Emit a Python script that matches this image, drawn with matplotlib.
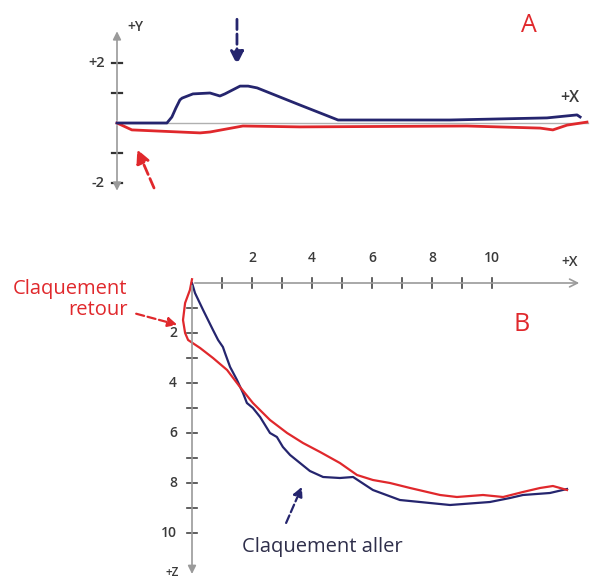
import matplotlib.pyplot as plt

plt.rcParams['font.family'] = ['Open Sans', 'DejaVu Sans']

# panel A (side view, X / Y)
a_blue_x = [0, 1.61, 1.77, 1.9, 2.03, 2.1, 2.45, 3.0, 3.32, 3.48, 3.97, 4.23, 4.52, 5.9, 7.13, 10.74, 13.87, 14.84, 14.94]
a_blue_y = [0, 0, 0.2, 0.5, 0.77, 0.83, 0.97, 1.0, 0.9, 0.97, 1.23, 1.23, 1.17, 0.6, 0.1, 0.1, 0.17, 0.27, 0.2]
a_red_x = [0, 0.48, 2.68, 3.0, 4.06, 5.9, 11.29, 13.65, 14.06, 14.52, 15.16]
a_red_y = [0, -0.23, -0.33, -0.3, -0.1, -0.13, -0.1, -0.17, -0.23, -0.07, 0.03]
a_yticks = [-2, -1, 1, 2]
a_ylabels = {-2: '-2', 2: '+2'}

# panel B (top view, X / Z)
b_blue_x = [0, 0.1, 0.37, 0.7, 0.87, 1.03, 1.1, 1.27, 1.5, 1.7, 1.83, 2.03, 2.27, 2.6, 2.83, 3.03,
            3.27, 3.6, 3.93, 4.37, 4.93, 5.37, 6.03, 6.93, 8.6, 9.93, 10.6, 11.03, 11.93, 12.5]
b_blue_z = [0, 0.4, 1.08, 1.88, 2.28, 2.56, 2.8, 3.36, 3.88, 4.4, 4.8, 5.0, 5.36, 6.0, 6.16, 6.56,
            6.88, 7.2, 7.52, 7.76, 7.8, 7.76, 8.28, 8.68, 8.88, 8.76, 8.6, 8.48, 8.4, 8.24]
b_red_x = [0, -0.07, -0.23, -0.3, -0.23, -0.13, 0.27, 0.7, 1.17, 1.6, 2.03, 2.6, 3.17, 3.7, 4.27,
           4.93, 5.5, 6.03, 6.6, 7.27, 8.27, 8.83, 9.7, 10.37, 11.03, 11.6, 12.03, 12.27, 12.5]
b_red_z = [-0.15, 0.28, 0.8, 1.48, 2.0, 2.28, 2.6, 3.0, 3.48, 4.16, 4.8, 5.48, 6.0, 6.4, 6.76,
           7.2, 7.68, 7.88, 8.0, 8.2, 8.48, 8.56, 8.48, 8.56, 8.36, 8.2, 8.12, 8.2, 8.28]
b_xticks = list(range(1, 11))
b_xlabels = [2, 4, 6, 8, 10]
b_zticks = list(range(1, 11))
b_zlabels = [2, 4, 6, 8, 10]

navy = '#25256e'
red = '#e0282c'
grey = '#9a9a9a'
txt = '#3a3a3a'
W, H = 590, 583

fig = plt.figure(figsize=(5.9, 5.83), dpi=100)

# ---------- panel A ----------
axA = fig.add_axes([0, 1 - 220 / H, 1, 220 / H])
axA.set_xlim(-117 / 31, (W - 117) / 31)
axA.set_ylim((123 - 220) / 30, 123 / 30)
axA.axis('off')

axA.annotate('', xy=(0, 3.15), xytext=(0, 0), arrowprops=dict(arrowstyle='-|>', color=grey, lw=1.2, mutation_scale=12))
axA.annotate('', xy=(0, -2.35), xytext=(0, 0), arrowprops=dict(arrowstyle='-|>', color=grey, lw=1.2, mutation_scale=12))
axA.plot([0, 15.2], [0, 0], color='#b0b0b0', lw=1)
for t in a_yticks:
    axA.plot([-0.17, 0.17], [t, t], color='#333333', lw=1.6)
for t, s in a_ylabels.items():
    axA.text(-0.4, t, s, ha='right', va='center', fontsize=10.5, color=txt, fontweight='semibold')
axA.text(0.6, 3.2, '+Y', ha='center', va='center', fontsize=10, color=txt, fontweight='semibold')
axA.text(14.6, 0.83, '+X', ha='center', va='center', fontsize=11.5, color=txt, fontweight='semibold')
axA.text(13.3, 3.25, 'A', ha='center', va='center', fontsize=18, color=red)

axA.plot(a_red_x, a_red_y, color=red, lw=2)
axA.plot(a_blue_x, a_blue_y, color=navy, lw=2)

axA.annotate('', xy=(3.87, 1.85), xytext=(3.87, 3.55),
             arrowprops=dict(arrowstyle='-|>', color=navy, lw=2, ls='--', mutation_scale=20))
axA.annotate('', xy=(0.62, -0.8), xytext=(1.23, -2.25),
             arrowprops=dict(arrowstyle='-|>', color=red, lw=2, ls='--', mutation_scale=20))

# ---------- panel B ----------
axB = fig.add_axes([0, 0, 1, 353 / H])
axB.set_xlim(-192 / 30, (W - 192) / 30)
axB.set_ylim((583 - 283) / 25, (230 - 283) / 25)
axB.axis('off')

axB.annotate('', xy=(13.0, 0), xytext=(0, 0), arrowprops=dict(arrowstyle='->', color=grey, lw=1.2, mutation_scale=14))
axB.annotate('', xy=(0, 11.75), xytext=(0, 0), arrowprops=dict(arrowstyle='-|>', color=grey, lw=1.2, mutation_scale=12))
for t in b_xticks:
    axB.plot([t, t], [-0.22, 0.18], color='#444444', lw=1.2)
for t in b_xlabels:
    axB.text(t, -1.0, str(t), ha='center', va='center', fontsize=10, color=txt, fontweight='semibold')
for t in b_zticks:
    axB.plot([-0.17, 0.17], [t, t], color='#444444', lw=1.2)
for t in b_zlabels:
    axB.text(-0.5, t, str(t), ha='right', va='center', fontsize=10, color=txt, fontweight='semibold')
axB.text(12.6, -0.84, '+X', ha='center', va='center', fontsize=10, color=txt, fontweight='semibold')
axB.text(-0.65, 11.6, '+Z', ha='center', va='center', fontsize=8.5, color=txt, fontweight='semibold')
axB.text(11.0, 1.65, 'B', ha='center', va='center', fontsize=18, color=red)

axB.plot(b_blue_x, b_blue_z, color=navy, lw=1.6)
axB.plot(b_red_x, b_red_z, color=red, lw=1.6)

axB.text(-2.15, 0.65, 'Claquement\nretour', ha='right', va='center', multialignment='right',
         fontsize=14.5, color=red, linespacing=1.05)
axB.annotate('', xy=(-0.4, 1.7), xytext=(-1.95, 1.2),
             arrowprops=dict(arrowstyle='-|>', color=red, lw=1.6, ls='--', mutation_scale=14))
axB.text(1.65, 10.55, 'Claquement aller', ha='left', va='center', fontsize=14.5, color='#2e2e4a')
axB.annotate('', xy=(3.7, 8.05), xytext=(3.1, 9.7),
             arrowprops=dict(arrowstyle='-|>', color=navy, lw=1.6, ls='--', mutation_scale=14))

fig.savefig('out.png', dpi=100)
